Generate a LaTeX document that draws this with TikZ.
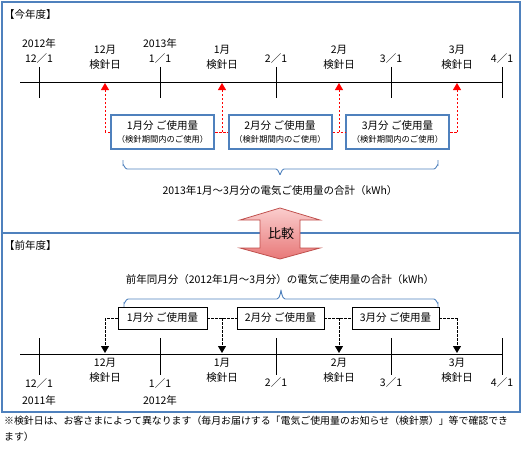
\documentclass[tikz,border=0pt]{standalone}
\usepackage{fontspec}
\setmainfont{Noto Sans CJK JP}
\usetikzlibrary{arrows.meta,calc}
\definecolor{frameblue}{RGB}{79,129,189}
\definecolor{arrowred}{RGB}{192,80,77}
\definecolor{pinktop}{RGB}{250,205,205}
\definecolor{pinkbot}{RGB}{232,120,120}
\tikzset{
  txt/.style={inner sep=0pt, font=\fontsize{10.5}{15}\selectfont, align=center},
  frame/.style={draw=frameblue, line width=2pt},
  tlline/.style={draw=black, line width=1pt},
  curbox/.style={draw=frameblue, line width=2pt, fill=white, minimum width=103pt, minimum height=34pt, inner sep=0pt, align=center},
  prevbox/.style={draw=black, line width=0.8pt, fill=white, minimum width=88pt, minimum height=22pt, inner sep=0pt, font=\fontsize{10.5}{12}\selectfont},
  reddash/.style={draw=red, line width=0.9pt, dash pattern=on 2.5pt off 1.5pt},
  blackdash/.style={draw=black, line width=0.9pt, dash pattern=on 2.5pt off 1.5pt},
  tip/.style={-{Triangle[width=8pt,length=7pt]}},
  bracestyle/.style={draw=frameblue, line width=0.9pt},
}
\begin{document}
\begin{tikzpicture}[x=1pt,y=-1pt]
\useasboundingbox (0,0) rectangle (522,452);
% frames
\draw[frame] (2,233) rectangle (520,412);
\draw[frame] (2,2) rectangle (520,233);
\node[txt, anchor=west] (ttl1) at (4,15) {【今年度】};
\node[txt, anchor=west] (ttl2) at (4,246) {【前年度】};

% ===== top timeline =====
\coordinate (tl0) at (20,82);
\coordinate (tl1) at (502,82);
\draw[tlline] (tl0) -- (tl1);
\foreach \n/\x in {a/39,b/160,c/276,d/391,e/502}{
  \coordinate (tt\n) at (\x,67);
  \coordinate (tb\n) at (\x,98);
  \draw[tlline] (tt\n) -- (tb\n);
}
\node[txt] (d1) at (39,51) {2012年\\12／1};
\node[txt] (d2) at (160,51) {2013年\\1／1};
\node[txt] (d3) at (276,59) {2／1};
\node[txt] (d4) at (391,59) {3／1};
\node[txt] (d5) at (502,59) {4／1};
\node[txt] (k12) at (105,57.5) {12月\\検針日};
\node[txt] (k1) at (222,57.5) {1月\\検針日};
\node[txt] (k2) at (339,57.5) {2月\\検針日};
\node[txt] (k3) at (457,57.5) {3月\\検針日};
\coordinate (m12) at (105,83);
\coordinate (m1) at (222,83);
\coordinate (m2) at (339,83);
\coordinate (m3) at (457,83);

\node[curbox] (b1) at (162.5,132) {{\fontsize{10.5}{12}\selectfont 1月分 ご使用量}\\[1pt]{\fontsize{8.3}{10}\selectfont （検針期間内のご使用）}};
\node[curbox] (b2) at (280,132) {{\fontsize{10.5}{12}\selectfont 2月分 ご使用量}\\[1pt]{\fontsize{8.3}{10}\selectfont （検針期間内のご使用）}};
\node[curbox] (b3) at (397.5,132) {{\fontsize{10.5}{12}\selectfont 3月分 ご使用量}\\[1pt]{\fontsize{8.3}{10}\selectfont （検針期間内のご使用）}};

\draw[reddash] (b1.west) -- (b1.west -| m12);
\draw[reddash, tip] (b1.west -| m12) -- (m12);
\draw[reddash] (b1.east) -- (b2.west);
\draw[reddash, tip] (b1.east -| m1) -- (m1);
\draw[reddash] (b2.east) -- (b3.west);
\draw[reddash, tip] (b2.east -| m2) -- (m2);
\draw[reddash] (b3.east) -- (b3.east -| m3);
\draw[reddash, tip] (b3.east -| m3) -- (m3);

% top brace
\draw[bracestyle] (123,160) -- (123,165) to[out=90,in=180] (127,169) -- (276,169) to[out=0,in=-90] (280,174)
  to[out=-90,in=180] (284,169) -- (434,169) to[out=0,in=90] (438,165) -- (438,160);
\node[txt] (sum1) at (280,191) {2013年1月～3月分の電気ご使用量の合計（kWh）};

% compare arrow
\shade[top color=pinktop, bottom color=pinkbot, draw=arrowred, line width=0.8pt]
  (280,208) -- (320,220) -- (300,220) -- (300,248) -- (320,248) -- (280,259)
  -- (240,248) -- (260,248) -- (260,220) -- (240,220) -- cycle;
\node[inner sep=0pt, font=\fontsize{13}{15}\selectfont] (cmp) at (281,234) {比較};

% ===== bottom =====
\node[txt] (sum2) at (280,280) {前年同月分（2012年1月～3月分）の電気ご使用量の合計（kWh）};
\draw[bracestyle] (124,308) -- (124,303) to[out=-90,in=180] (128,299) -- (277,299) to[out=0,in=90] (281,291)
  to[out=90,in=180] (285,299) -- (434,299) to[out=0,in=-90] (438,303) -- (438,308);

\node[prevbox, minimum width=89pt] (p1) at (162.5,318) {1月分 ご使用量};
\node[prevbox, minimum width=87pt] (p2) at (280.5,318) {2月分 ご使用量};
\node[prevbox, minimum width=87pt] (p3) at (395.5,318) {3月分 ご使用量};

\coordinate (bl0) at (20,354);
\coordinate (bl1) at (502,354);
\draw[tlline] (bl0) -- (bl1);
\foreach \n/\x in {a/39,b/160,c/276,d/391,e/502}{
  \coordinate (bt\n) at (\x,338);
  \coordinate (bb\n) at (\x,375);
  \draw[tlline] (bt\n) -- (bb\n);
}
\coordinate (n12) at (105,353);
\coordinate (n1) at (222,353);
\coordinate (n2) at (339,353);
\coordinate (n3) at (457,353);
\draw[blackdash] (p1.west) -- (p1.west -| n12);
\draw[blackdash, tip] (p1.west -| n12) -- (n12);
\draw[blackdash] (p1.east) -- (p2.west);
\draw[blackdash, tip] (p1.east -| n1) -- (n1);
\draw[blackdash] (p2.east) -- (p3.west);
\draw[blackdash, tip] (p2.east -| n2) -- (n2);
\draw[blackdash] (p3.east) -- (p3.east -| n3);
\draw[blackdash, tip] (p3.east -| n3) -- (n3);

\node[txt] (q12) at (105,370) {12月\\検針日};
\node[txt] (q1) at (222,370) {1月\\検針日};
\node[txt] (q2) at (339,370) {2月\\検針日};
\node[txt] (q3) at (457,370) {3月\\検針日};
\node[txt] (e1) at (39,392) {12／1\\[2pt]2011年};
\node[txt] (e2) at (160,392) {1／1\\[2pt]2012年};
\node[txt] (e3) at (276,383) {2／1};
\node[txt] (e4) at (391,383) {3／1};
\node[txt] (e5) at (502,383) {4／1};

% footnote
\node[inner sep=0pt, anchor=west, font=\fontsize{9.9}{12}\selectfont] (fn1) at (4,421) {※検針日は、お客さまによって異なります（毎月お届けする「電気ご使用量のお知らせ（検針票）」等で確認でき};
\node[inner sep=0pt, anchor=west, font=\fontsize{9.9}{12}\selectfont] (fn2) at (4,437) {ます）};
\end{tikzpicture}
\end{document}
